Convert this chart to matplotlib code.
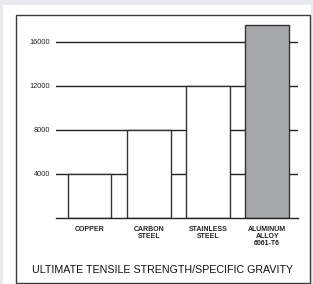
import matplotlib.pyplot as plt
from matplotlib.patches import Rectangle

materials = ['COPPER', 'CARBON\nSTEEL', 'STAINLESS\nSTEEL', 'ALUMINUM\nALLOY\n6061-T6']
strength_ratio = [4000, 8000, 12000, 17500]
bar_colors = ['white', 'white', 'white', '#a7a8ab']
yticks = [4000, 8000, 12000, 16000]
title = 'ULTIMATE TENSILE STRENGTH/SPECIFIC GRAVITY'

plt.rcParams['font.family'] = ['Liberation Sans', 'DejaVu Sans']

W, H = 313, 284
fig = plt.figure(figsize=(W / 100, H / 100), dpi=100, facecolor='#e8eaee')

# white panel and bordered box
fig.patches.append(Rectangle((3 / W, 0), (311 - 3) / W, 1 - 5 / H, transform=fig.transFigure,
                             facecolor='white', edgecolor='none', zorder=-2))
fig.patches.append(Rectangle((16 / W, 1 - 283 / H), (310 - 16) / W, (283 - 15) / H,
                             transform=fig.transFigure, facecolor='white',
                             edgecolor='#3a3a3a', linewidth=1.0, zorder=-1))

ax = fig.add_axes([56 / W, 1 - 218 / H, (298 - 56) / W, (218 - 20) / H])
ax.set_facecolor('none')
ax.set_zorder(2)

x = range(len(materials))
for yv in yticks:
    ax.axhline(yv, color='#222222', linewidth=1.0, zorder=1)
ax.bar(x, strength_ratio, width=0.74, color=bar_colors, edgecolor='#333333',
       linewidth=1.0, zorder=2)
ax.axhline(0, color='#222222', linewidth=1.0, zorder=3, clip_on=False)

ax.set_xlim(-0.566, 3.52)
ax.set_ylim(0, 18000)
for s in ax.spines.values():
    s.set_visible(False)
ax.set_yticks(yticks)
ax.set_yticklabels([str(v) for v in yticks], fontsize=5.3, color='#222222')
ax.tick_params(axis='y', length=0, pad=4)
ax.set_xticks(list(x))
ax.set_xticklabels(materials, fontsize=5.0, color='#222222', linespacing=1.0,
                   fontweight='bold')
ax.tick_params(axis='x', length=0, pad=6)

fig.text(163 / W, 1 - 270 / H, title, ha='center', va='center', fontsize=7.7,
         color='#111111', zorder=3)

fig.savefig('out.png', dpi=100, facecolor=fig.get_facecolor())
